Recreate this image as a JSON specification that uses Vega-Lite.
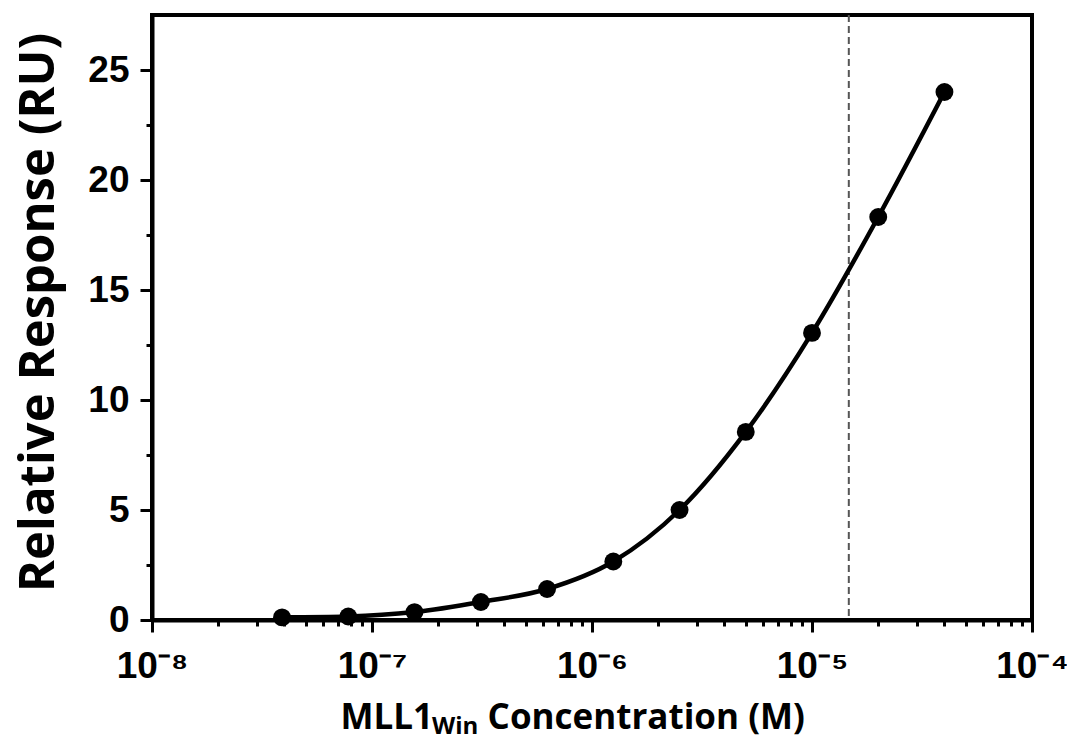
{
  "$schema": "https://vega.github.io/schema/vega-lite/v6.json",
  "width": 880,
  "height": 605,
  "autosize": "none",
  "padding": {"left": 152, "top": 15, "right": 35, "bottom": 116},
  "background": "white",
  "datasets": {
    "points": [
      {"conc": 3.9e-8, "resp": 0.12},
      {"conc": 7.8e-8, "resp": 0.16},
      {"conc": 1.56e-7, "resp": 0.36},
      {"conc": 3.125e-7, "resp": 0.82},
      {"conc": 6.25e-7, "resp": 1.41},
      {"conc": 1.25e-6, "resp": 2.66},
      {"conc": 2.5e-6, "resp": 5.0},
      {"conc": 5e-6, "resp": 8.55},
      {"conc": 1e-5, "resp": 13.05},
      {"conc": 2e-5, "resp": 18.32},
      {"conc": 4e-5, "resp": 24.0}
    ],
    "kd": [{"conc": 1.47e-5}]
  },
  "title": {
    "text": "Win",
    "orient": "bottom",
    "anchor": "start",
    "frame": "group",
    "dx": 280,
    "offset": -1,
    "font": "Open Sans",
    "fontSize": 24,
    "fontWeight": "bold",
    "baseline": "alphabetic",
    "color": "black"
  },
  "layer": [
    {
      "data": {"name": "kd"},
      "mark": {"type": "rule", "color": "#555555", "strokeWidth": 2, "strokeDash": [7, 4]},
      "encoding": {
        "x": {"field": "conc", "type": "quantitative", "scale": {"type": "log", "domain": [1e-8, 1e-4], "nice": false}}
      }
    },
    {
      "data": {"name": "points"},
      "mark": {"type": "line", "color": "black", "strokeWidth": 4.5, "interpolate": "monotone"},
      "encoding": {
        "x": {
          "field": "conc",
          "type": "quantitative",
          "scale": {"type": "log", "domain": [1e-8, 1e-4], "nice": false},
          "axis": {
            "title": "MLL1\u00a0\u00a0\u00a0\u00a0\u00a0\u00a0Concentration (M)",
            "values": [1e-8, 2e-8, 3e-8, 4e-8, 5e-8, 6e-8, 7e-8, 8e-8, 9e-8, 1e-7, 2e-7, 3e-7, 4e-7, 5e-7, 6e-7, 7e-7, 8e-7, 9e-7, 1e-6, 2e-6, 3e-6, 4e-6, 5e-6, 6e-6, 7e-6, 8e-6, 9e-6, 1e-5, 2e-5, 3e-5, 4e-5, 5e-5, 6e-5, 7e-5, 8e-5, 9e-5, 1e-4],
            "labelExpr": "datum.value == 1e-8 ? '10⁻⁸' : datum.value == 1e-7 ? '10⁻⁷' : datum.value == 1e-6 ? '10⁻⁶' : datum.value == 1e-5 ? '10⁻⁵' : datum.value == 1e-4 ? '10⁻⁴' : ''",
            "tickSize": {"condition": {"test": "indexof([1e-8, 1e-7, 1e-6, 1e-5, 1e-4], datum.value) >= 0", "value": 12}, "value": 6},
            "labelFont": "Liberation Sans",
            "labelFontSize": 37,
            "labelFontWeight": "bold",
            "labelColor": "black",
            "labelPadding": 16,
            "labelOverlap": false,
            "labelFlush": false,
            "titleFont": "Open Sans",
            "titleFontSize": 35,
            "titleFontWeight": "bold",
            "titleColor": "black",
            "titleX": 188,
            "titleY": 108,
            "titleAlign": "left",
            "titleBaseline": "alphabetic",
            "domainColor": "black",
            "domainWidth": 4,
            "tickColor": "black",
            "tickWidth": 3,
            "grid": false
          }
        },
        "y": {
          "field": "resp",
          "type": "quantitative",
          "scale": {"domain": [0, 27.5], "nice": false, "zero": false},
          "axis": {
            "title": "Relative Response (RU)",
            "values": [0, 2.5, 5, 7.5, 10, 12.5, 15, 17.5, 20, 22.5, 25],
            "labelExpr": "datum.value % 5 == 0 ? format(datum.value, 'd') : ''",
            "tickSize": {"condition": {"test": "datum.value % 5 == 0", "value": 12}, "value": 6},
            "labelFont": "Liberation Sans",
            "labelFontSize": 37,
            "labelFontWeight": "bold",
            "labelColor": "black",
            "labelPadding": 11,
            "labelOverlap": false,
            "labelFlush": false,
            "titleFont": "Open Sans",
            "titleFontSize": 49,
            "titleFontWeight": "bold",
            "titleColor": "black",
            "titleX": -99,
            "titleY": 297,
            "titleAngle": -90,
            "titleAlign": "center",
            "titleBaseline": "alphabetic",
            "domainColor": "black",
            "domainWidth": 4,
            "tickColor": "black",
            "tickWidth": 3,
            "grid": false
          }
        }
      }
    },
    {
      "data": {"name": "points"},
      "mark": {"type": "point", "filled": true, "color": "black", "opacity": 1, "size": 320},
      "encoding": {
        "x": {"field": "conc", "type": "quantitative", "scale": {"type": "log", "domain": [1e-8, 1e-4], "nice": false}},
        "y": {"field": "resp", "type": "quantitative", "scale": {"domain": [0, 27.5], "nice": false, "zero": false}}
      }
    }
  ],
  "config": {
    "view": {"stroke": "black", "strokeWidth": 4}
  }
}
